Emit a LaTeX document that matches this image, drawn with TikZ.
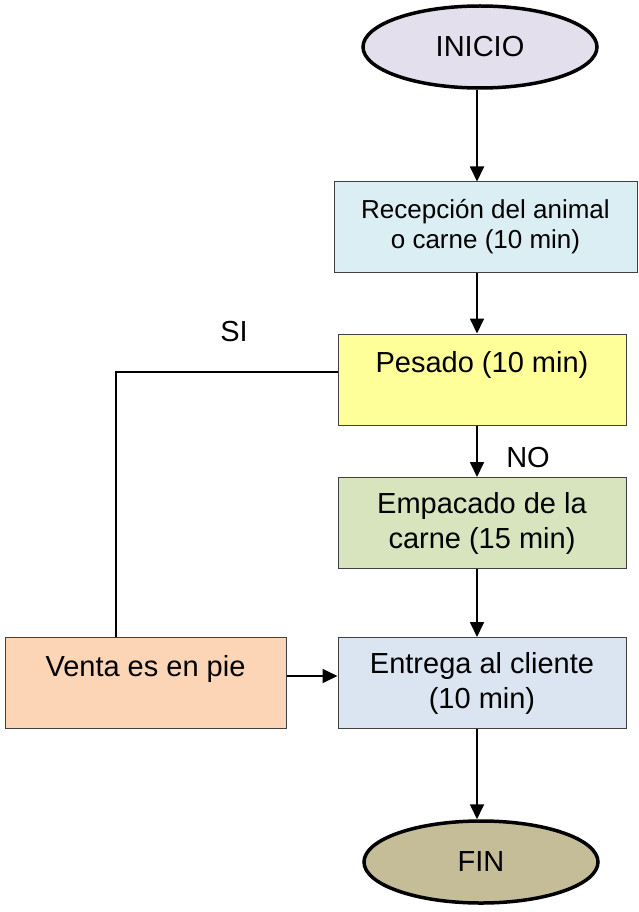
\documentclass[tikz,border=0pt]{standalone}
\usepackage{fontspec}
\setmainfont{Liberation Sans}
\usetikzlibrary{shapes.geometric,arrows.meta}
\definecolor{inicio}{HTML}{E4DFEC}
\definecolor{recep}{HTML}{DAEEF3}
\definecolor{pesado}{HTML}{FFFF99}
\definecolor{empac}{HTML}{D7E4BD}
\definecolor{entrega}{HTML}{DBE5F1}
\definecolor{venta}{HTML}{FBD5B5}
\definecolor{fin}{HTML}{C4BD97}
\begin{document}
\begin{tikzpicture}[x=1pt, y=-1pt, line width=1.8pt, >={Triangle[length=15pt,width=14pt]},
  main/.style = {draw=black!75, line width=1pt, rectangle, inner sep=0pt, align=center, font=\fontsize{29}{35}\selectfont, minimum width=288pt, minimum height=91pt},
  term/.style = {draw, ellipse, line width=3.5pt, inner sep=0pt, font=\fontsize{29}{35}\selectfont, minimum width=234pt, minimum height=82pt}]
		\useasboundingbox (0,0) rectangle (638,912);
		\node[term, fill=inicio] (1) at (480,47) {INICIO};
		\node[main, fill=recep, minimum width=303pt, minimum height=90pt, font=\fontsize{26}{30}\selectfont] (2) at (485.5,227) {Recepción del animal\\o carne (10 min)};
		\node[main, fill=pesado] (3) at (482,379.5) {Pesado (10 min)\\ \phantom{P}};
		\node[main, fill=empac] (4) at (482,523) {Empacado de la\\carne (15 min)};
		\node[main, fill=entrega] (5) at (482,683) {Entrega al cliente\\(10 min)};
		\node[main, fill=venta, minimum width=281pt] (6) at (145.5,683) {Venta es en pie\\ \phantom{P}};
		\node[term, fill=fin] (7) at (481,862) {FIN};
		\node[font=\fontsize{29}{35}\selectfont] (si) at (234,332) {SI};
		\node[font=\fontsize{29}{35}\selectfont] (no) at (528,458) {NO};
		\coordinate (ax) at (477,0);
		\coordinate (ay) at (0,676);
		\coordinate (sx) at (116,372);
		\draw[->] (1.south -| ax) -- (2.north -| ax);
		\draw[->] (2.south -| ax) -- (3.north -| ax);
		\draw[->] (3.south -| ax) -- (4.north -| ax);
		\draw[->] (4.south -| ax) -- (5.north -| ax);
		\draw[->] (5.south -| ax) -- (7.north -| ax);
		\draw[->] (6.east |- ay) -- (5.west |- ay);
		\draw[line width=1.3pt] (3.west |- sx) -- (sx) -- (6.north -| sx);
\end{tikzpicture}
\end{document}
